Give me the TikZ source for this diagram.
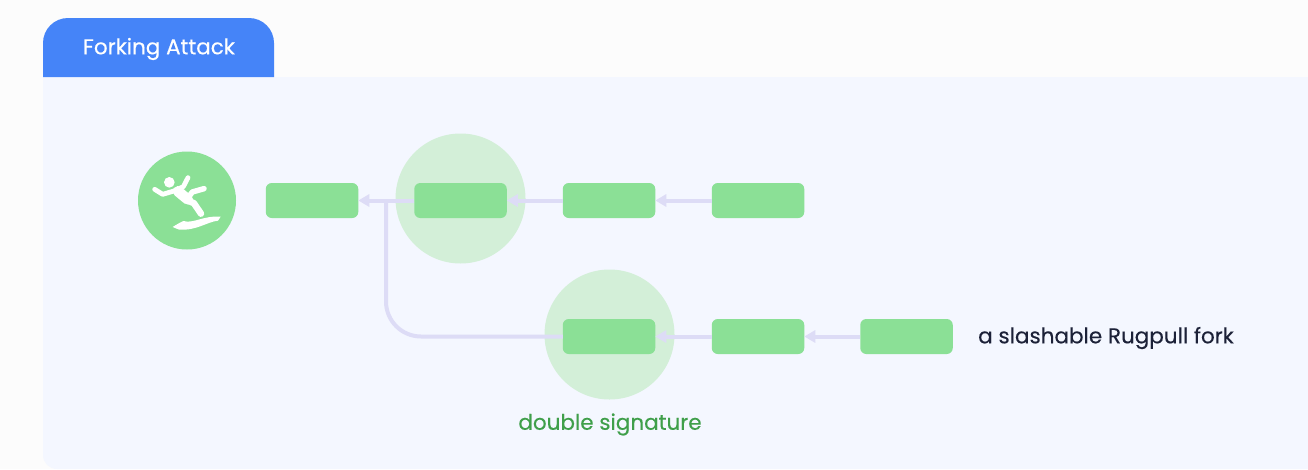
\documentclass[tikz,border=0pt]{standalone}
\usepackage{fontspec}
\setmainfont{Poppins}[FakeBold=0.25]
\usetikzlibrary{arrows.meta}
\definecolor{pagebg}{HTML}{FCFCFC}
\definecolor{panelbg}{HTML}{F4F7FF}
\definecolor{tabblue}{HTML}{4584F8}
\definecolor{boxgreen}{HTML}{8BE096}
\definecolor{halogreen}{HTML}{D3EFD8}
\definecolor{linkcol}{HTML}{DDDCF6}
\definecolor{darktext}{HTML}{1C2138}
\definecolor{greentext}{HTML}{3F9F4A}
\tikzset{
  x=1pt,y=-1pt,
  blockbox/.style={draw=none,fill=boxgreen,rounded corners=6pt,minimum width=92.5pt,minimum height=35pt,inner sep=0pt,outer sep=0pt},
  halo/.style={circle,fill=halogreen,minimum size=130pt,inner sep=0pt,outer sep=0pt},
  link/.style={draw=linkcol,line width=4pt,-{Triangle[length=11pt,width=12pt]}},
  plainlink/.style={draw=linkcol,line width=4pt},
  figstroke/.style={draw=white,line cap=round,line join=round}
}
\begin{document}
\begin{tikzpicture}
\useasboundingbox (0,0) rectangle (1308,469);
\fill[pagebg] (0,0) rectangle (1308,469);
% panel
\fill[panelbg,rounded corners=14pt] (43,77) rectangle (1340,469);
\fill[panelbg] (43,77) rectangle (1308,300);
\fill[panelbg] (200,300) rectangle (1308,469);
% tab
\fill[tabblue] (43,77) [rounded corners=25pt] -- (43,18) -- (274,18) [sharp corners] -- (274,77) -- cycle;
\node[text=white,font=\fontsize{21.5}{24}\selectfont,inner sep=0pt] (title) at (159,49) {Forking Attack};
% halos
\node[halo] (h1) at (460.5,198.5) {};
\node[halo] (h2) at (609.5,334.5) {};
% connectors
\coordinate (j) at (386,200.5);
\node[blockbox] (a1) at (312,200.5) {};
\node[blockbox] (a2) at (460.5,200.5) {};
\node[blockbox] (a3) at (609,200.5) {};
\node[blockbox] (a4) at (758,200.5) {};
\node[blockbox] (b1) at (609,336.5) {};
\node[blockbox] (b2) at (758,336.5) {};
\node[blockbox] (b3) at (906.5,336.5) {};
\draw[link] (a2.west) -- (a1.east);
\draw[link] (a3.west) -- (a2.east);
\draw[link] (a4.west) -- (a3.east);
\draw[link] (b2.west) -- (b1.east);
\draw[link] (b3.west) -- (b2.east);
\draw[plainlink,rounded corners=35pt] (b1.west) -- (386,336.5) -- (j);
% labels
\node[text=darktext,font=\fontsize{21.5}{24}\selectfont,anchor=west,inner sep=0pt] (t1) at (978,338) {a slashable Rugpull fork};
\node[text=greentext,font=\fontsize{21.5}{24}\selectfont,inner sep=0pt] (t2) at (610,424.5) {double signature};
% falling person icon
\node[circle,fill=boxgreen,minimum size=98pt,inner sep=0pt] (icon) at (187,200.5) {};
\begin{scope}[shift={(120pt,-140pt)},x=0.33333pt,y=-0.33333pt]
  \fill[white] (148,127) circle[radius=16];
  \draw[figstroke,line width=10.5pt] (174,154) -- (203,178);
  \draw[figstroke,line width=4.8pt] (104,148) -- (128,163) -- (165,152);
  \draw[figstroke,line width=4.8pt] (165,152) -- (190,140) -- (204,113);
  \draw[figstroke,line width=5.5pt] (205,172) -- (217,156) -- (252,146);
  \draw[figstroke,line width=6.5pt] (197,178) -- (222,190) -- (243,221);
  \fill[white] (158,261) .. controls (172,252) and (180,248) .. (190,243)
    .. controls (220,252) and (250,226) .. (302,230)
    .. controls (298,236) and (296,238) .. (294,242)
    .. controls (260,246) and (230,272) .. (178,269)
    .. controls (172,267) and (165,264) .. (158,261) -- cycle;
\end{scope}
\end{tikzpicture}
\end{document}
